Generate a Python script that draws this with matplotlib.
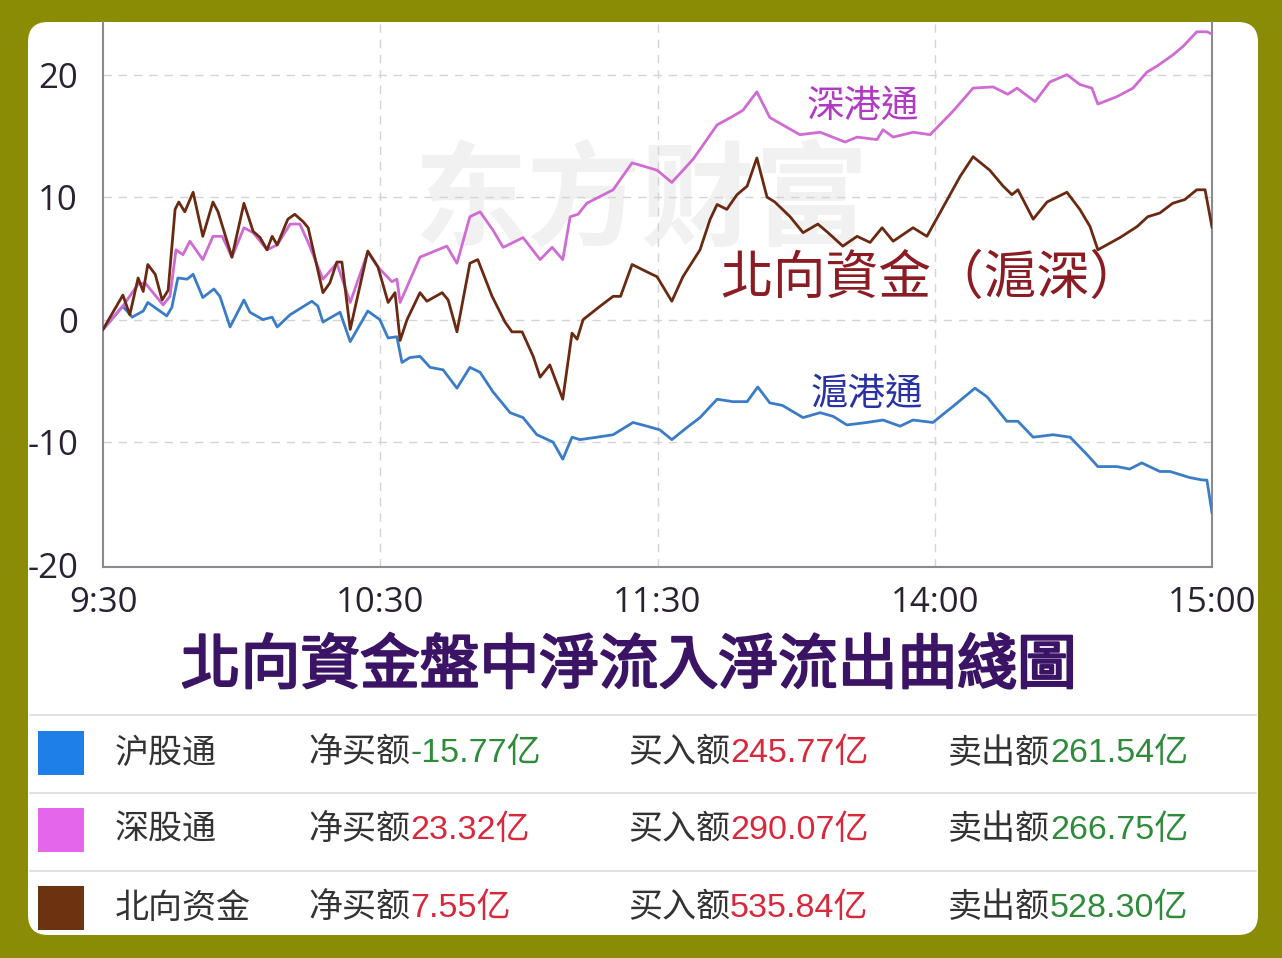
import matplotlib
matplotlib.use("Agg")
import matplotlib.pyplot as plt
import matplotlib.patheffects as pe
from matplotlib.patches import FancyBboxPatch, Rectangle

# ---------------- data (minutes from 9:30 trading start, value in 亿) ----------------
hgt_min = [0, 4.3, 6.3, 8.7, 9.7, 13.8, 14.9, 16.2, 18.2, 19.5, 21.6, 24.0, 25.3, 27.5, 30.5,
           31.8, 34.6, 36.6, 37.7, 40.5, 45.2, 46.5, 47.6, 51.3, 53.5, 57.3, 59.9, 61.7, 63.6,
           64.7, 66.4, 68.6, 70.8, 73.6, 76.6, 79.4, 81.6, 84.4, 88.1, 90.9, 93.9, 97.4, 99.5,
           101.5, 103.2, 106.9, 110.4, 114.7, 117.7, 120.5, 123.1, 126.4, 129.2, 132.9, 136.3,
           139.4, 141.7, 144.3, 147.0, 151.5, 155.2, 158.0, 161.0, 165.3, 168.8, 172.5, 175.3,
           179.6, 183.9, 188.7, 191.3, 195.6, 198.0, 201.3, 205.6, 209.3, 212.9, 215.3, 219.4,
           222.2, 224.8, 228.7, 230.9, 235.2, 238.0, 238.9, 240]
hgt_val = [-0.8, 1.1, 0.2, 0.7, 1.4, 0.3, 1.0, 3.4, 3.3, 3.7, 1.8, 2.5, 1.9, -0.6, 1.6,
           0.6, 0.0, 0.2, -0.6, 0.4, 1.5, 1.1, -0.2, 0.6, -1.8, 0.7, 0.0, -1.5, -1.4,
           -3.5, -3.1, -3.0, -3.9, -4.1, -5.6, -3.9, -4.3, -5.9, -7.6, -8.0, -9.4, -10.0, -11.4,
           -9.6, -9.8, -9.6, -9.4, -8.4, -8.7, -9.0, -9.8, -8.8, -8.0, -6.5, -6.7,
           -6.7, -5.5, -6.8, -7.0, -8.0, -7.6, -7.9, -8.6, -8.4, -8.2, -8.7, -8.2,
           -8.4, -7.1, -5.6, -6.3, -8.3, -8.3, -9.6, -9.4, -9.6, -11.0, -12.0, -12.0,
           -12.2, -11.7, -12.4, -12.4, -12.9, -13.1, -13.1, -15.77]

sgt_min = [0, 4.3, 7.6, 9.1, 13.0, 14.5, 15.8, 17.3, 18.8, 21.6, 23.8, 25.8, 27.9, 30.5,
           32.5, 35.5, 37.7, 40.5, 42.6, 44.4, 47.6, 50.6, 53.5, 57.3, 59.5, 62.5, 63.6, 64.3,
           68.6, 74.4, 76.6, 79.4, 81.6, 84.4, 86.6, 90.9, 94.6, 97.2, 99.5, 101.1, 102.8,
           104.7, 110.4, 114.5, 119.9, 123.1, 127.7, 129.2, 132.9, 136.3, 138.5, 141.5, 144.3,
           150.8, 155.2, 160.6, 163.2, 167.5, 168.8, 171.0, 175.3, 179.0, 183.9, 188.3, 192.6,
           195.8, 197.8, 201.7, 204.9, 208.6, 211.4, 214.0, 215.3, 219.4, 222.9, 225.9, 228.1,
           231.5, 233.7, 236.7, 238.9, 240]
sgt_val = [-0.8, 1.1, 2.9, 3.0, 1.2, 1.9, 5.7, 5.3, 6.4, 4.9, 6.8, 6.8, 5.1, 7.5,
           7.1, 5.7, 6.1, 7.8, 7.8, 6.3, 3.3, 4.6, 1.4, 5.5, 4.3, 3.1, 3.3, 1.4,
           5.1, 6.0, 4.6, 8.4, 8.8, 7.3, 5.9, 6.7, 4.9, 5.9, 4.9, 8.4, 8.6,
           9.5, 10.6, 12.8, 12.2, 11.2, 13.1, 13.9, 15.9, 16.6, 17.1, 18.6, 16.5,
           15.1, 15.3, 14.5, 14.9, 14.7, 15.5, 14.9, 15.3, 15.1, 17.0, 18.9, 19.0,
           18.4, 18.9, 17.8, 19.4, 20.0, 19.2, 18.9, 17.6, 18.2, 18.9, 20.2, 20.7,
           21.6, 22.3, 23.5, 23.5, 23.32]

bx_min = [0, 4.3, 5.8, 7.6, 8.7, 9.7, 11.3, 12.8, 14.1, 15.6, 16.4, 17.7, 19.5, 21.6, 23.8,
          24.9, 27.9, 30.5, 32.5, 34.0, 35.5, 36.6, 37.7, 40.0, 41.5, 43.3, 44.4, 47.6, 49.1,
          50.6, 51.7, 53.5, 57.3, 59.5, 61.7, 63.2, 64.3, 65.8, 68.6, 70.1, 73.4, 74.7, 76.6,
          79.4, 81.1, 84.2, 87.0, 88.5, 90.7, 93.1, 94.6, 96.7, 99.5, 101.5, 102.6, 103.9,
          107.6, 110.4, 112.0, 114.5, 117.7, 119.9, 123.1, 125.5, 129.2, 131.4, 132.9, 135.0,
          137.2, 139.4, 141.5, 143.7, 145.4, 148.7, 151.5, 154.7, 156.9, 160.1, 163.2, 166.0,
          168.6, 171.0, 175.3, 178.3, 181.1, 185.5, 188.3, 191.9, 194.8, 196.7, 198.0, 201.3,
          204.3, 208.6, 211.4, 213.6, 215.3, 220.1, 223.8, 226.1, 228.7, 231.5, 234.1, 236.7,
          238.5, 240]
bx_val = [-0.8, 2.0, 0.4, 3.4, 2.3, 4.5, 3.7, 1.6, 2.4, 9.0, 9.6, 8.8, 10.4, 6.8, 9.6,
          8.8, 5.1, 9.5, 7.2, 6.7, 5.7, 6.8, 6.1, 8.2, 8.6, 8.0, 7.5, 2.2, 3.0,
          4.7, 4.7, -0.8, 5.6, 4.3, 1.4, 2.2, -1.7, 0.0, 2.2, 1.5, 2.2, 1.6, -1.0,
          4.6, 4.9, 1.9, -0.2, -1.0, -1.0, -3.0, -4.7, -3.7, -6.5, -1.1, -1.6, 0.0,
          1.1, 1.9, 1.9, 4.5, 3.9, 3.5, 1.5, 3.5, 5.7, 8.2, 9.4, 9.0,
          10.2, 10.9, 13.2, 10.0, 9.6, 8.4, 7.1, 7.8, 7.1, 6.0, 6.8, 6.3,
          7.5, 6.4, 7.5, 6.8, 8.7, 11.7, 13.3, 12.2, 10.9, 10.2, 10.6, 8.2,
          9.6, 10.4, 9.0, 7.6, 5.7, 6.7, 7.6, 8.4, 8.7, 9.5, 9.8, 10.6,
          10.6, 7.55]

x_ticks = [0, 60, 120, 180, 240]
x_labels = ["9:30", "10:30", "11:30", "14:00", "15:00"]
y_ticks = [20, 10, 0, -10, -20]
y_labels = ["20", "10", "0", "-10", "-20"]

title = "北向資金盤中淨流入淨流出曲綫圖"
ann_sgt = "深港通"
ann_hgt = "滬港通"
ann_bx = "北向資金（滬深）"
watermark = "东方财富"

rows = ["沪股通", "深股通", "北向资金"]
net_vals = ["-15.77亿", "23.32亿", "7.55亿"]
buy_vals = ["245.77亿", "290.07亿", "535.84亿"]
sell_vals = ["261.54亿", "266.75亿", "528.30亿"]
net_colors = ["#2e8b3a", "#d8283c", "#d8283c"]
row_colors = ["#1e7fe8", "#e466ea", "#6b3310"]

# ---------------- figure ----------------
W, H = 1282, 958
fig = plt.figure(figsize=(W / 100, H / 100), dpi=100)
fig.patch.set_facecolor("#8b8c06")

CJK_TC = ["Noto Sans CJK TC", "DejaVu Sans"]
CJK_SC = ["Noto Sans CJK SC", "DejaVu Sans"]
NUM = ["Liberation Sans", "Noto Sans CJK SC", "DejaVu Sans"]
LAT = ["Open Sans", "DejaVu Sans"]

# background / pixel-coordinate axes
bg = fig.add_axes([0, 0, 1, 1])
bg.set_xlim(0, W)
bg.set_ylim(H, 0)
bg.axis("off")
bg.add_patch(FancyBboxPatch((28, 22), 1230, 913, boxstyle="round,pad=0,rounding_size=20",
                            facecolor="white", edgecolor="none"))


def fx(x):
    return x / W


def fy(y):
    return 1 - y / H


ax = fig.add_axes([fx(103), fy(567), fx(1212) - fx(103), fy(22) - fy(567)])
ax.set_facecolor("white")
ax.set_xlim(0, 240)
ax.set_ylim(-20.2, 24.3)

ax.plot(hgt_min, hgt_val, color="#3b7cc8", lw=2.0, zorder=3, solid_joinstyle="round")
ax.plot(sgt_min, sgt_val, color="#cf6bd2", lw=2.0, zorder=3, solid_joinstyle="round")
ax.plot(bx_min, bx_val, color="#6a2a12", lw=2.0, zorder=4, solid_joinstyle="round")

for v in [20, 10, 0, -10]:
    ax.axhline(v, color="#d4d4d4", lw=1.0, ls=(0, (6, 5)), zorder=1)
for m in [60, 120, 180]:
    ax.axvline(m, color="#d4d4d4", lw=1.0, ls=(0, (6, 5)), zorder=1)

for s in ["left", "right", "bottom"]:
    ax.spines[s].set_color("#8a8a90")
    ax.spines[s].set_linewidth(1.5)
ax.spines["top"].set_visible(False)

ax.set_xticks(x_ticks)
ax.set_xticklabels(x_labels, family=LAT, fontsize=25, color="#2a2232")
ax.set_yticks(y_ticks)
ax.set_yticklabels(y_labels, family=LAT, fontsize=25, color="#2a2232")
ax.tick_params(axis="both", length=0)
ax.tick_params(axis="y", pad=18)
ax.tick_params(axis="x", pad=14)

# watermark
ax.text(0.485, 0.665, watermark, transform=ax.transAxes, family=CJK_SC, fontsize=82,
        color="#f1f1f1", weight="bold", ha="center", va="center", zorder=0)

# annotations
ax.text(0.685, 0.845, ann_sgt, transform=ax.transAxes, family=CJK_TC, fontsize=27,
        color="#b13ac5", ha="center", va="center", zorder=5)
ax.text(0.689, 0.316, ann_hgt, transform=ax.transAxes, family=CJK_TC, fontsize=27,
        color="#2832a4", ha="center", va="center", zorder=5)
ax.text(0.557, 0.530, ann_bx, transform=ax.transAxes, family=CJK_TC, fontsize=38,
        color="#8b1c24", ha="left", va="center", zorder=5)

# title
title_color = "#3c1466"
bg.text(629, 667, title, family=CJK_TC, fontsize=43, color=title_color,
        ha="center", va="center",
        path_effects=[pe.withStroke(linewidth=1.6, foreground=title_color)])

# table
row_y = [753, 830, 908]
for yline in [715, 793, 871]:
    bg.plot([30, 1256], [yline, yline], color="#dcdcdc", lw=1.2)

for i, yc in enumerate(row_y):
    bg.add_patch(Rectangle((38, yc - 22), 46, 44, facecolor=row_colors[i], edgecolor="none"))
    bg.text(115, yc, rows[i], family=CJK_SC, fontsize=24.5, color="#333333", ha="left", va="center")
    for x0, lab, val, col in [(308, "净买额", net_vals[i], net_colors[i]),
                              (628, "买入额", buy_vals[i], "#d8283c"),
                              (948, "卖出额", sell_vals[i], "#2e8b3a")]:
        t = bg.text(x0, yc, lab, family=CJK_SC, fontsize=24.5, color="#333333",
                    ha="left", va="center")
        bg.annotate(val, xy=(1, 0.5), xycoords=t, family=NUM, fontsize=24.5, color=col,
                    ha="left", va="center")

fig.savefig("out.png", dpi=100, facecolor=fig.get_facecolor())
